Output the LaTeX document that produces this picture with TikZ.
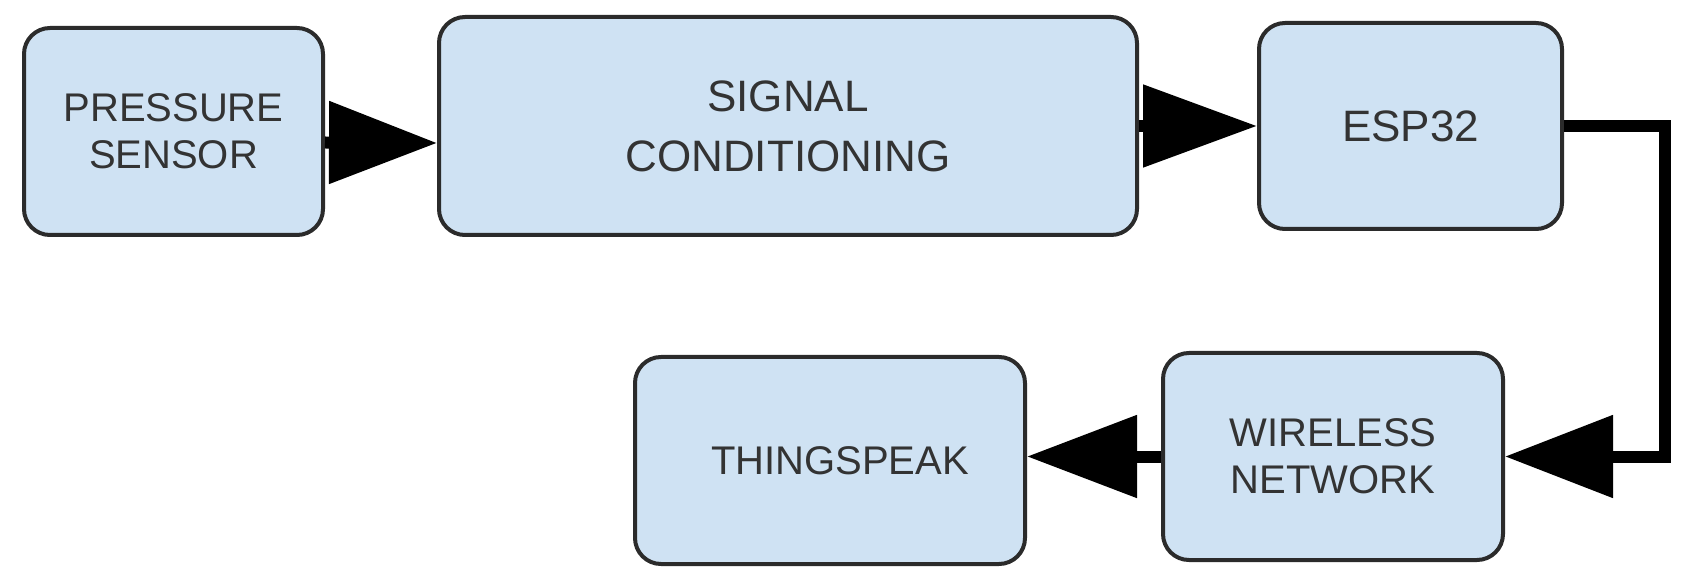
\documentclass[tikz,border=0pt]{standalone}
\usepackage{fontspec}
\setmainfont{Liberation Sans}
\usetikzlibrary{arrows.meta}
\definecolor{boxfill}{HTML}{CFE2F3}
\definecolor{boxline}{HTML}{2B2B2B}
\definecolor{txt}{HTML}{333333}
\begin{document}
\begin{tikzpicture}[x=1pt,y=1pt,
  blk/.style={draw=boxline,fill=boxfill,line width=4pt,rounded corners=26pt,
    align=center,text=txt,font=\fontsize{40}{47}\selectfont,inner sep=0pt},
  conn/.style={line width=12pt,draw=black},
  tip/.style={-{Triangle[length=#1,width=80pt]}}]
\useasboundingbox (0,0) rectangle (1692,587);
\node[blk,minimum width=299pt,minimum height=207pt] (p) at (173.5,455.5) {PRESSURE\\SENSOR};
\node[blk,minimum width=698pt,minimum height=218pt,font=\fontsize{44}{60}\selectfont] (s) at (788,461) {SIGNAL\\CONDITIONING};
\node[blk,minimum width=303pt,minimum height=206pt,font=\fontsize{44}{50}\selectfont] (e) at (1410.5,461) {ESP32};
\node[blk,minimum width=390pt,minimum height=207pt] (t) at (830,126.5) {\hspace*{20pt}THINGSPEAK};
\node[blk,minimum width=340pt,minimum height=207pt] (w) at (1333,130.5) {WIRELESS\\NETWORK};
\coordinate (c) at (1665,130.5);
\draw[conn,tip=108pt] ([yshift=-11pt]p.east) -- ([yshift=-17pt]s.west);
\draw[conn,tip=114pt] (s.east) -- (e.west);
\draw[conn,tip=108pt,line join=miter] (e.east) -| (c) -- (w.east);
\draw[conn,tip=110pt] (w.west) -- ([yshift=4pt]t.east);
\end{tikzpicture}
\end{document}
